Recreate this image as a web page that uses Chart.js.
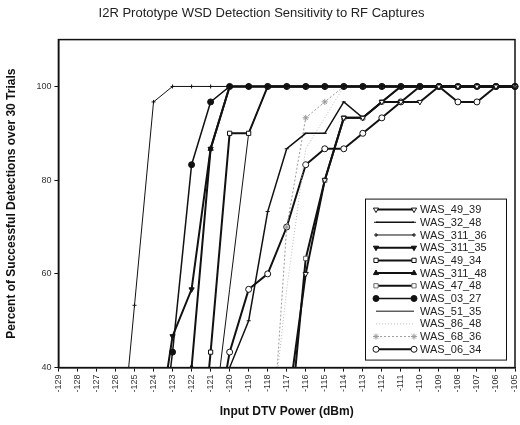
<!DOCTYPE html>
<html>
<head>
<meta charset="utf-8">
<script src="https://cdn.jsdelivr.net/npm/chart.js@4/dist/chart.umd.min.js"></script>
<style>
  body { margin: 0; background: #fff; }
  canvas { display: block; }
</style>
</head>
<body>
<canvas id="myChart1" width="520" height="425"></canvas>
<script>
// x labels, dBm from -129 to -105
var powers = ["-129","-128","-127","-126","-125","-124","-123","-122","-121","-120","-119","-118","-117",
  "-116","-115","-114","-113","-112","-111","-110","-109","-108","-107","-106","-105"];

var yTicks = [40, 60, 80, 100];

var n = null;
// percent detected, one value per power (null = not measured / off chart)
var was_49_39  = [n,n,n,n,n,n,n,n,n,n,n,n,30,60,80,93.3,93.3,96.7,96.7,96.7,100,100,100,100,100];
var was_32_48  = [n,n,n,n,n,n,n,n,10,40,50,73.3,86.7,90,90,96.7,93.3,96.7,100,100,100,100,100,100,100];
var was_311_36 = [n,n,n,10,53.3,96.7,100,100,100,100,100,100,100,100,100,100,100,100,100,100,100,100,100,100,100];
var was_311_35 = [n,n,n,n,n,20,46.7,56.7,86.7,100,100,100,100,100,100,100,100,100,100,100,100,100,100,100,100];
var was_49_34  = [n,n,n,n,n,n,n,0,43.3,90,90,100,100,100,100,100,100,100,100,100,100,100,100,100,100];
var was_311_48 = [n,n,n,n,n,n,6.7,40,86.7,100,100,100,100,100,100,100,100,100,100,100,100,100,100,100,100];
var was_47_48  = [n,n,n,n,n,n,n,n,n,n,n,n,20,63.3,80,93.3,93.3,96.7,100,100,100,100,100,100,100];
var was_03_27  = [n,n,n,n,n,10,43.3,83.3,96.7,100,100,100,100,100,100,100,100,100,100,100,100,100,100,100,100];
var was_51_35  = [n,n,n,n,n,n,n,n,23.3,56.7,90,100,100,100,100,100,100,100,100,100,100,100,100,100,100];
var was_86_48  = [n,n,n,n,n,n,n,n,n,n,n,20,56.7,86.7,93.3,100,100,100,100,100,100,100,100,100,100];
var was_68_36  = [n,n,n,n,n,n,n,n,n,n,n,10,70,93.3,96.7,100,100,100,100,100,100,100,100,100,100];
var was_06_34  = [n,n,n,n,n,n,n,n,20,43.3,56.7,60,70,83.3,86.7,86.7,90,93.3,96.7,100,100,96.7,96.7,100,100];

var ink = "#111";
var gray = "#999";
var font = "'Liberation Sans', Arial, sans-serif";

function series(label, values, width, style, fill, opts) {
  var ds = {
    label: label,
    data: values,
    borderColor: ink,
    borderWidth: width,
    pointStyle: style,
    pointRadius: style ? 3 : 0,
    pointBorderColor: ink,
    pointBackgroundColor: fill,
    pointBorderWidth: 1,
    fill: false,
    tension: 0
  };
  for (var k in opts) ds[k] = opts[k];
  return ds;
}

var data = {
  labels: powers,
  datasets: [
    series("WAS_49_39", was_49_39, 2, "triangle", "#fff", {pointRotation: 180}),
    series("WAS_32_48", was_32_48, 1.5, "line", ink, {pointRadius: 2}),
    series("WAS_311_36", was_311_36, 1, "cross", ink, {pointRadius: 2}),
    series("WAS_311_35", was_311_35, 2, "triangle", ink, {pointRotation: 180}),
    series("WAS_49_34", was_49_34, 2, "rect", "#fff", {}),
    series("WAS_311_48", was_311_48, 2, "triangle", ink, {}),
    series("WAS_47_48", was_47_48, 2, "rect", "#fff", {pointBorderColor: "#666"}),
    series("WAS_03_27", was_03_27, 1.5, "circle", ink, {}),
    series("WAS_51_35", was_51_35, 1, false, ink, {}),
    series("WAS_86_48", was_86_48, 1, false, gray, {borderColor: "#bbb", borderDash: [1, 2]}),
    series("WAS_68_36", was_68_36, 1, "star", gray, {borderColor: gray, pointBorderColor: gray, borderDash: [2, 2]}),
    series("WAS_06_34", was_06_34, 2, "circle", "#fff", {})
  ]
};

// box round the plot area and the legend inside it
var frameAndLegend = {
  id: "frameAndLegend",
  afterDatasetsDraw: function(chart) {
    var ctx = chart.ctx;
    var a = chart.chartArea;
    ctx.save();
    ctx.strokeStyle = ink;
    ctx.lineWidth = 1.5;
    ctx.strokeRect(a.left, a.top, a.right - a.left, a.bottom - a.top);

    var w = 141, h = 161;
    var bx = a.right - w - 9, by = a.bottom - h - 8;
    ctx.fillStyle = "#fff";
    ctx.fillRect(bx, by, w, h);
    ctx.lineWidth = 1;
    ctx.strokeRect(bx + 0.5, by + 0.5, w, h);

    ctx.font = "11px " + font;
    ctx.textBaseline = "middle";
    chart.data.datasets.forEach(function(ds, i) {
      var y = by + 11 + i * 12.7;
      var x1 = bx + 11, x2 = bx + 49;
      ctx.save();
      ctx.strokeStyle = ds.borderColor;
      ctx.lineWidth = ds.borderWidth;
      ctx.setLineDash(ds.borderDash || []);
      ctx.beginPath();
      ctx.moveTo(x1, y);
      ctx.lineTo(x2, y);
      ctx.stroke();
      ctx.restore();
      if (ds.pointStyle && Chart.helpers && Chart.helpers.drawPoint) {
        ctx.save();
        ctx.strokeStyle = ds.pointBorderColor;
        ctx.fillStyle = ds.pointBackgroundColor;
        ctx.lineWidth = 1;
        var opt = {pointStyle: ds.pointStyle, radius: ds.pointRadius, rotation: ds.pointRotation || 0, borderWidth: 1};
        Chart.helpers.drawPoint(ctx, opt, x1, y);
        Chart.helpers.drawPoint(ctx, opt, x2, y);
        ctx.restore();
      }
      ctx.fillStyle = "#222";
      ctx.fillText(ds.label, bx + 55, y + 0.5);
    });
    ctx.restore();
  }
};

var ctx = document.getElementById("myChart1").getContext("2d");

var options = {
  responsive: false,
  animation: false,
  layout: { padding: { left: 4, right: 1, top: 0, bottom: 6 } },
  plugins: {
    legend: { display: false },
    tooltip: { enabled: false },
    title: {
      display: true,
      text: "I2R Prototype WSD Detection Sensitivity to RF Captures",
      color: "#222",
      font: { family: font, size: 13, weight: "normal" },
      padding: { top: 6, bottom: 18 }
    }
  },
  scales: {
    x: {
      type: "category",
      offset: false,
      grid: { display: true, drawOnChartArea: false, color: ink, tickLength: 4 },
      border: { color: ink, width: 1.5 },
      afterFit: function(scale) {
        // let the last rotated label run off the edge like the original
        scale.paddingRight = 0;
        scale.paddingLeft = 0;
      },
      ticks: {
        autoSkip: false, minRotation: 90, maxRotation: 90, color: "#333",
        font: { family: font, size: 9 }
      },
      title: {
        display: true, text: "Input DTV Power (dBm)", color: "#111",
        font: { family: font, size: 12, weight: "bold" },
        padding: { top: 9, bottom: 0 }
      }
    },
    y: {
      min: 40,
      max: 110,
      grid: { display: true, drawOnChartArea: false, color: ink, tickLength: 4 },
      border: { color: ink, width: 1.5 },
      afterBuildTicks: function(axis) {
        axis.ticks = yTicks.map(function(v) { return {value: v}; });
      },
      ticks: {
        color: "#333",
        font: { family: font, size: 9 }
      },
      title: {
        display: true, text: "Percent of Successful Detections over 30 Trials", color: "#111",
        font: { family: font, size: 12, weight: "bold" },
        padding: { top: 0, bottom: 15 }
      }
    }
  }
};

var lineChart = new Chart(ctx, {
  type: "line",
  data: data,
  options: options,
  plugins: [frameAndLegend]
});
</script>
</body>
</html>
